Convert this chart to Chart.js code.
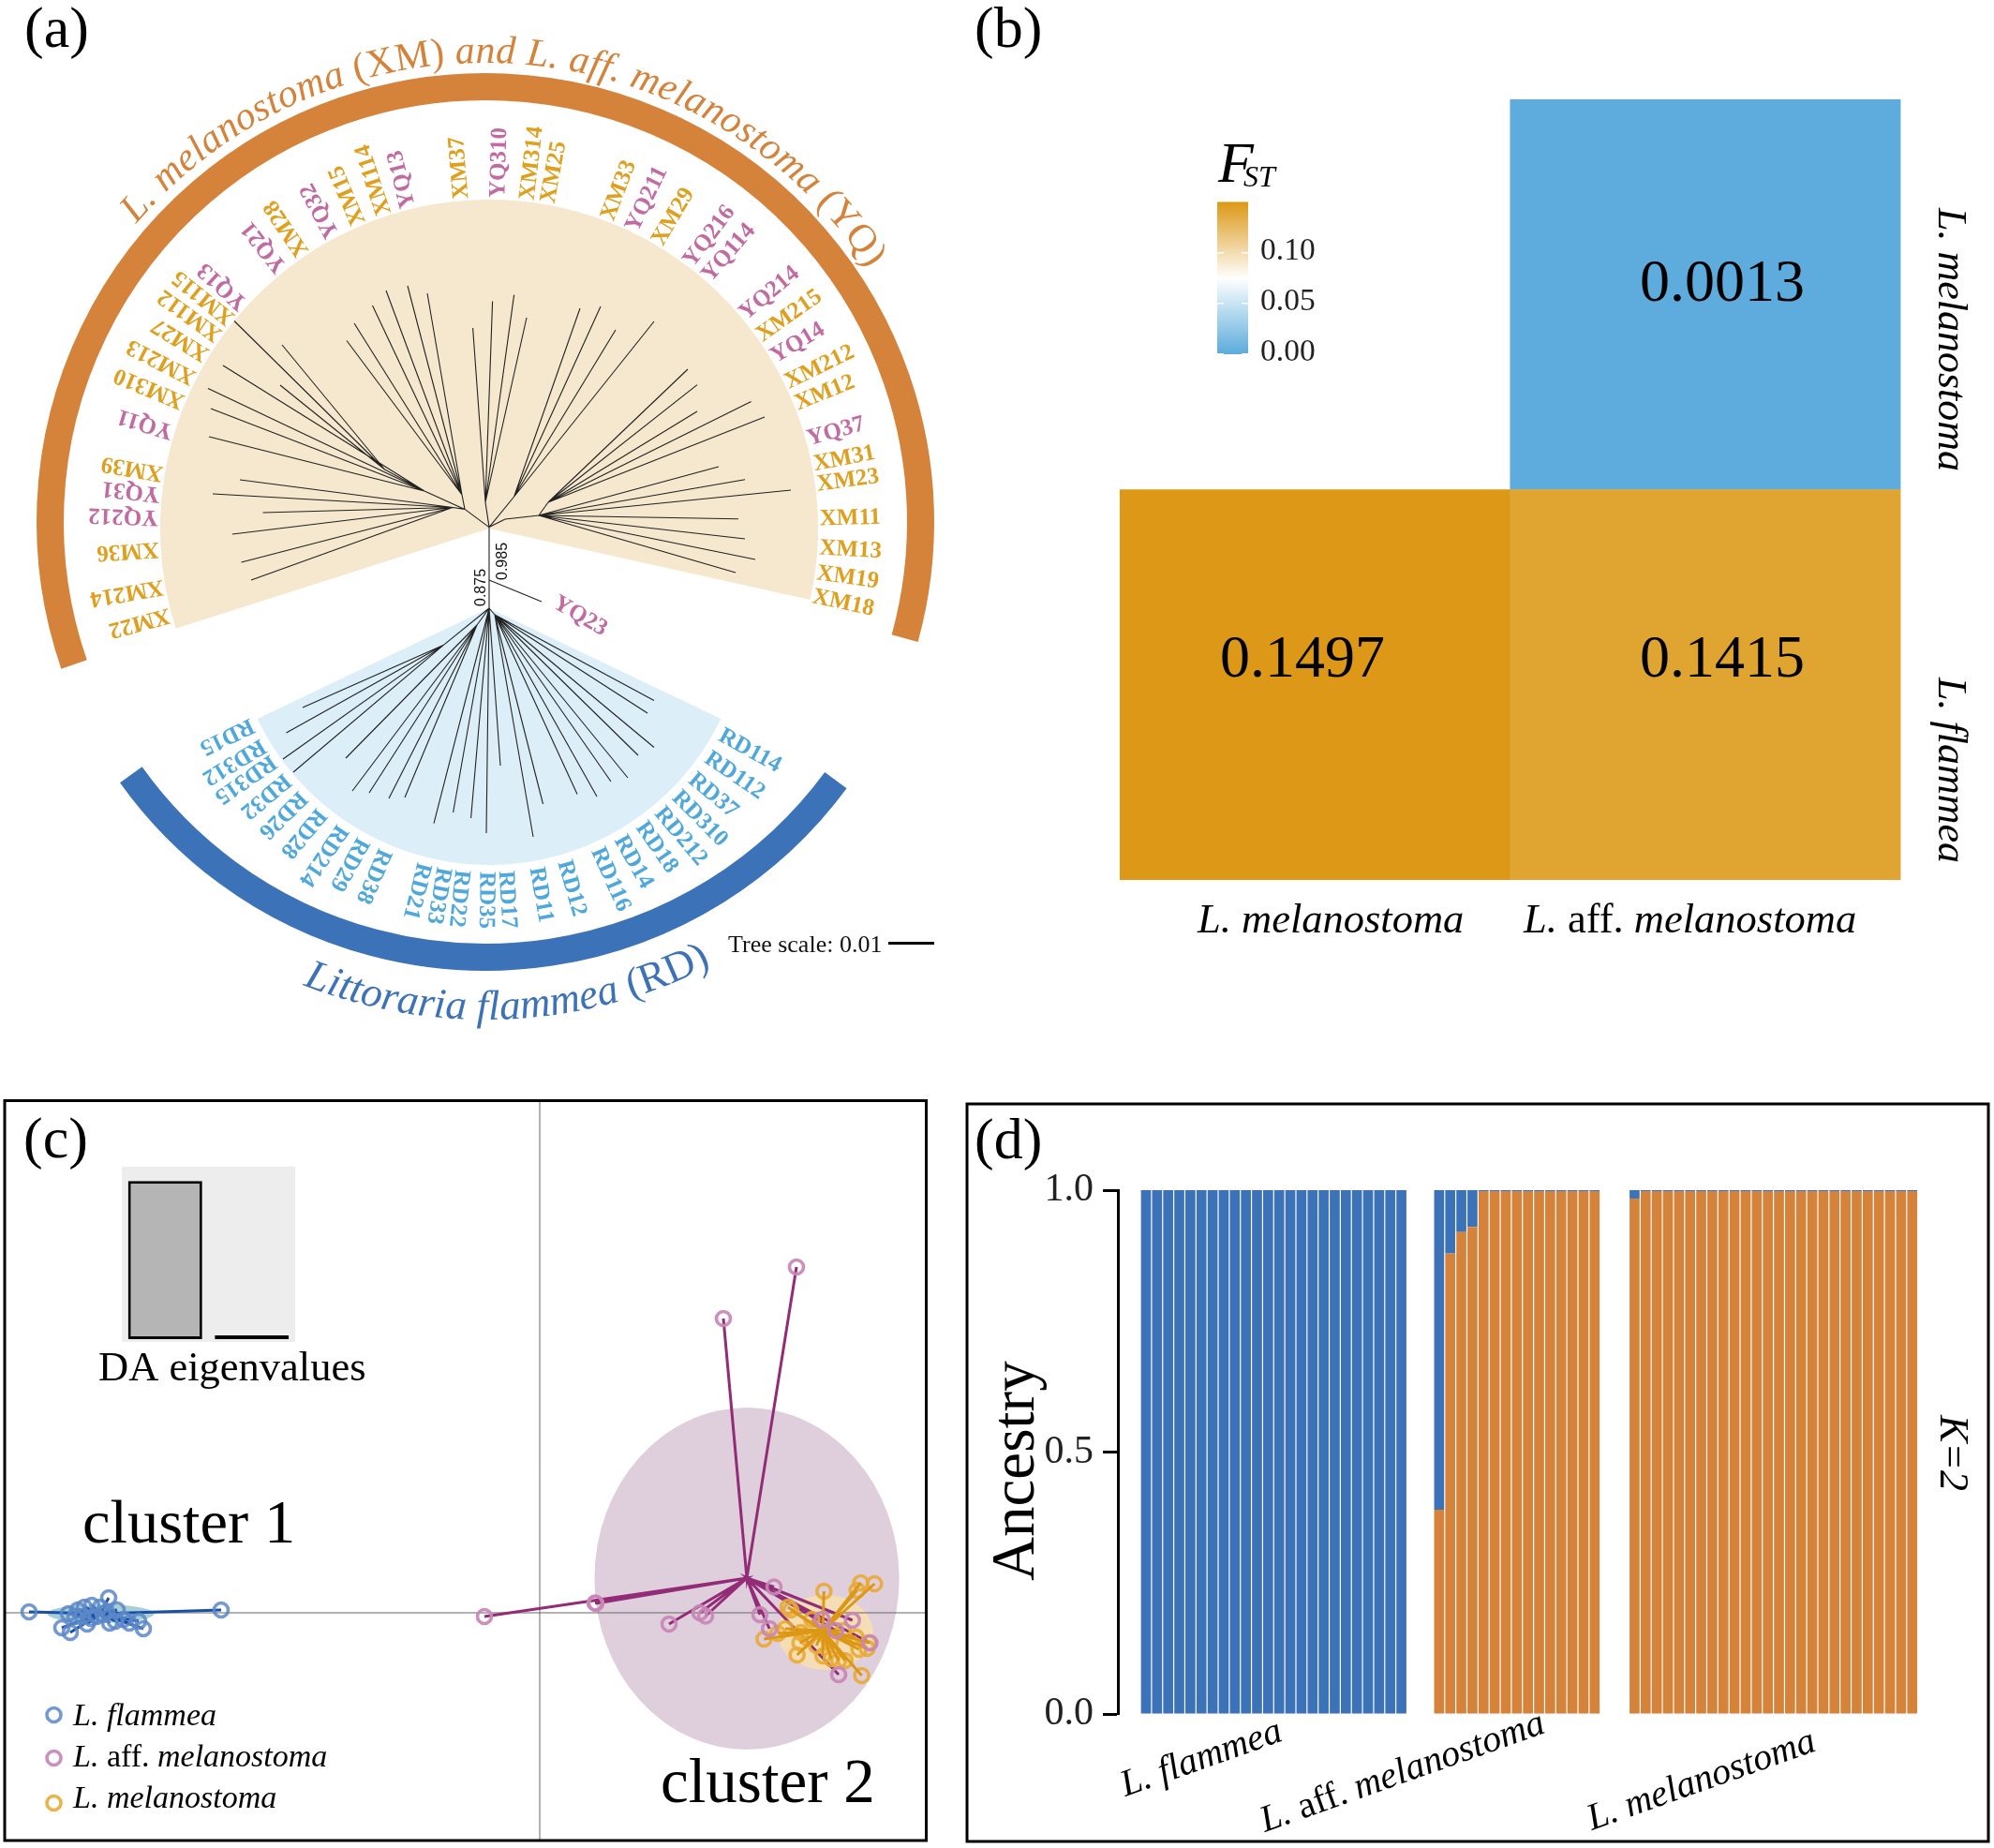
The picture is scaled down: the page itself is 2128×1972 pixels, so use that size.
<!DOCTYPE html>
<html><head><meta charset="utf-8">
<script src="https://cdn.jsdelivr.net/npm/chart.js@4/dist/chart.umd.min.js"></script>
<style>
html,body{margin:0;padding:0;background:#fff}
#page{position:relative;width:2128px;height:1972px;overflow:hidden;background:#fff}
canvas{position:absolute;display:block}
</style></head><body><div id="page">
<canvas id="ca" width="1030" height="1120" style="left:0;top:0"></canvas>
<canvas id="cb" width="1108" height="1040" style="left:1020px;top:0"></canvas>
<canvas id="cc" width="995" height="802" style="left:0;top:1170px"></canvas>
<canvas id="ci" width="185" height="187" style="left:130px;top:1245px;background:#EDEDED"></canvas>
<canvas id="cd" width="1108" height="802" style="left:1020px;top:1170px"></canvas>
</div>
<script>
// ---------- (a) tree data: layout units measured from the upper root ----------
const nodeX=[0,-26,-69,-111.4,-39,-29,-4,26.6,17,53,63,0,-49,-13,6,0];
const nodeY=[1.4,20.6,40,63,22.5,36,28,34,10,14,28,-85,-124.6,-103,-92,-55];
const nodeParent=[-1,0,1,2,1,1,0,0,0,8,9,0,11,11,11,0];
const upperTipX=[-272,-221,-223,-284,-300,-297,-299,-266,-295,-241.5,-274,-264.5,-254,-152,-144,-124.5,-110,-87,-66,-17.4,3.6,26.6,40,97,119,135,176,212,222,222,279.6,294,245,273,322,266,273,284,263];
const upperTipY=[221.5,196,153,174,149.5,128,98,52,37,17,-6,-36,-55,200.5,219,238,254,259,251,214,242.5,249.4,225,235,237,212,221,170,153.4,125,135.4,119,66,52.3,41,10.2,-11,-33,-47];
const upperTipParent=[3,3,3,2,2,2,2,4,4,4,4,4,4,5,5,5,5,5,5,6,6,6,6,7,7,7,7,10,10,10,10,10,9,9,9,9,9,9,9];
const lowerTipX=[-199,-216.5,-220,-209,-153,-146,-128,-107,-90,-59,-38.4,-19.4,-3,12,47,57.5,94,115,130,148,159,176,169,176];
const lowerTipY=[-191,-218,-246,-260,-245,-280,-282,-288,-287,-314.6,-303,-309,-325,-253,-329,-294,-283.5,-286,-270,-266,-242,-233.5,-197,-183.5];
const lowerTipParent=[12,12,12,12,13,13,13,13,13,11,11,11,11,11,14,14,14,14,14,14,14,14,14,14];
const outgroupTip=[56,-78];
const upperLabels=["XM18","XM19","XM13","XM11","XM23","XM31","YQ37","XM12","XM212","YQ14","XM215","YQ214","YQ114","YQ216","XM29","YQ211","XM33","XM25","XM314","YQ310","XM37","YQ13","XM114","XM15","YQ32","XM28","YQ21","YQ13","XM115","XM112","XM27","XM213","XM310","YQ11","XM39","YQ31","YQ212","XM36","XM214","XM22"];
const upperAngles=[-11.9,-7.8,-3.4,1.6,7.6,11.1,15.6,22,26,31,35.3,40,49,53,59.4,64.4,69,79.7,83.3,88.4,94.7,104,108.3,113,118,124,128.6,137.7,141,144.5,148.5,153,157.5,163,170.4,174,178,183.5,190,195];
const lowerLabels=["RD114","RD112","RD37","RD310","RD212","RD18","RD14","RD116","RD12","RD11","RD17","RD35","RD22","RD33","RD21","RD38","RD29","RD214","RD28","RD26","RD32","RD315","RD312","RD15"];
const lowerAngles=[-28.7,-34.3,-39.9,-45,-50,-55,-60.4,-65.9,-73.6,-79.8,-86.5,-90.6,-96,-100,-104.4,-113.4,-118.7,-123.9,-129.6,-135,-140,-145,-149,-154];
const bootstrapLabels=["0.875","0.985"];
const treeScaleLabel="Tree scale: 0.01";

// ---------- (b) FST ----------
const fstColumns=["L. melanostoma","L. aff. melanostoma"];
const fstRows=["L. flammea","L. melanostoma"];
const fstFlammea=[0.1497,0.1415];
const fstMelanostoma=[null,0.0013];
const fstTicks=[0,0.05,0.10];

// ---------- (c) DAPC coordinates ----------
const flammeaX=[-5.45,-3.40,-4.60,-5.03,-5.10,-5.01,-4.23,-4.28,-4.38,-4.51,-4.53,-4.59,-4.83,-4.93,-4.86,-4.78,-4.69,-4.79,-4.73,-4.96,-4.88,-4.66,-4.44,-4.62];
const flammeaY=[0.01,0.03,0.16,-0.01,-0.16,-0.21,-0.17,-0.09,-0.11,0.03,-0.09,-0.11,-0.12,0.03,0.06,0.08,0.06,-0.06,-0.04,-0.04,-0.04,-0.02,-0.07,0.01];
const affinisX=[2.74,1.96,-0.59,0.59,1.38,1.71,1.77,2.35,2.50,2.452,3.013,3.16,3.337,3.524,3.19,0.60];
const affinisY=[3.69,3.14,-0.04,0.105,-0.12,0,-0.035,-0.02,0.275,-0.17,-0.07,-0.19,-0.08,-0.32,-0.66,0.10];
const melanoX=[3.426,3.573,3.387,3.033,2.649,2.679,2.905,2.62,2.541,2.393,2.787,2.777,2.747,3.023,3.111,3.19,3.259,3.406,3.495,3.514,3.436,3.239,3.377,2.856,2.954,3.101];
const melanoY=[0.32,0.31,0.24,0.23,0.06,0.03,-0.07,-0.17,-0.22,-0.28,-0.21,-0.32,-0.45,-0.46,-0.49,-0.51,-0.51,-0.39,-0.38,-0.32,-0.67,-0.19,-0.26,-0.27,-0.35,-0.30];
const centroids=[[-4.69,-0.01],[2.21,0.37],[3.02,-0.19]];
const ellipseRadii=[[0.57,0.10],[1.626,1.825],[0.51,0.40]];
const ellipseCentres=[[-4.685,-0.01],[2.21,0.365],[3.047,-0.21]];
const eigenvalues=[1,0.024];
const legendNames=["L. flammea","L. aff. melanostoma","L. melanostoma"];

// ---------- (d) ancestry ----------
const flammeaOrange=[0,0,0,0,0,0,0,0,0,0,0,0,0,0,0,0,0,0,0,0,0,0,0,0];
const affOrange=[0.39,0.879,0.92,0.93,0.998,0.998,0.998,0.998,0.998,0.998,0.998,0.998,0.998,0.998,0.998];
const melOrange=[0.984,0.998,0.998,0.998,0.998,0.998,0.998,0.998,0.998,0.998,0.998,0.998,0.998,0.998,0.998,0.998,0.998,0.998,0.998,0.998,0.998,0.998,0.998,0.998,0.998,0.998];
const ancestryTicks=[0,0.5,1];

// ---------- styling ----------
const SERIF='"Liberation Serif","Times New Roman",serif';
const ORANGE='#D5823A',BLUE='#3C72B8';
const cXM='#DF9F1F',cYQ='#C26BA0',cRD='#4FA8DC';
const f=(size,style='')=>`${style} ${size}px ${SERIF}`.trim();
function txt(ctx,s,x,y,o={}){
  ctx.save();ctx.translate(x,y);if(o.rot)ctx.rotate(o.rot*Math.PI/180);
  ctx.font=o.font||f(40);ctx.fillStyle=o.color||'#000';
  ctx.textAlign=o.align||'left';ctx.textBaseline=o.base||'alphabetic';
  ctx.fillText(s,0,0);ctx.restore();
}
function runs(ctx,list,x,y,size,o={}){ // mixed italic / roman text on one baseline
  ctx.save();ctx.translate(x,y);if(o.rot)ctx.rotate(o.rot*Math.PI/180);
  ctx.fillStyle=o.color||'#000';ctx.textBaseline='alphabetic';ctx.textAlign='left';
  let p=0;for(const [s,st] of list){ctx.font=f(size,st);ctx.fillText(s,p,0);p+=ctx.measureText(s).width;}
  ctx.restore();
}
const species={ "L. melanostoma":[["L. melanostoma","italic"]],
  "L. aff. melanostoma":[["L. ","italic"],["aff. ",""],["melanostoma","italic"]],
  "L. flammea":[["L. flammea","italic"]]};
function curved(ctx,list,cx,cy,r,a0,a1,size,color,bottom){
  const chars=[];let total=0;
  for(const [s,st] of list){ctx.font=f(size,st);for(const c of s){const w=ctx.measureText(c).width;chars.push([c,st,w]);total+=w;}}
  const arc=(a1-a0)*Math.PI/180*r, extra=(arc-total)/(chars.length-1);
  let p=0;ctx.save();ctx.fillStyle=color;ctx.textAlign='center';ctx.textBaseline='alphabetic';
  for(const [c,st,w] of chars){
    const th=(a0*Math.PI/180)+(p+w/2)/r;
    ctx.save();
    if(bottom){ctx.translate(cx+r*Math.sin(th),cy+r*Math.cos(th));ctx.rotate(-th);}
    else{ctx.translate(cx+r*Math.sin(th),cy-r*Math.cos(th));ctx.rotate(th);}
    ctx.font=f(size,st);ctx.fillText(c,0,0);ctx.restore();
    p+=w+extra;
  }
  ctx.restore();
}
const base={responsive:false,maintainAspectRatio:false,animation:false,devicePixelRatio:1,events:[],
  plugins:{legend:{display:false},tooltip:{enabled:false}}};
const labelColor=s=>s.startsWith('XM')?cXM:s.startsWith('YQ')?cYQ:cRD;

// ========== (a) ==========
const branch=[];
const seg=(x0,y0,x1,y1)=>{branch.push({x:x0,y:y0},{x:x1,y:y1},{x:NaN,y:NaN});};
nodeParent.forEach((p,i)=>{if(p>=0)seg(nodeX[p],nodeY[p],nodeX[i],nodeY[i]);});
upperTipX.forEach((x,i)=>{const p=upperTipParent[i];seg(nodeX[p],nodeY[p],x,upperTipY[i]);});
lowerTipX.forEach((x,i)=>{const p=lowerTipParent[i];seg(nodeX[p],nodeY[p],x,lowerTipY[i]);});
seg(nodeX[15],nodeY[15],outgroupTip[0],outgroupTip[1]);

const treePlugin={id:'tree',
 beforeDatasetsDraw(ch){
  const {ctx,scales:{x,y}}=ch;
  const wedge=(cxv,cyv,r,a0,a1,col)=>{const cx=x.getPixelForValue(cxv),cy=y.getPixelForValue(cyv);
    ctx.save();ctx.fillStyle=col;ctx.beginPath();ctx.moveTo(cx,cy);ctx.arc(cx,cy,r,a0*Math.PI/180,a1*Math.PI/180);ctx.closePath();ctx.fill();ctx.restore();};
  wedge(0,0,351,162.3,372.5,'#F5E8CE');
  wedge(0,-85,274,25.5,154.5,'#DCEEF8');
  const ring=(a0,a1,col)=>{const cx=x.getPixelForValue(-4),cy=y.getPixelForValue(7);
    ctx.save();ctx.strokeStyle=col;ctx.lineWidth=29;ctx.lineCap='butt';ctx.beginPath();ctx.arc(cx,cy,464.5,a0*Math.PI/180,a1*Math.PI/180);ctx.stroke();ctx.restore();};
  ring(160.9,375.5,ORANGE);
  ring(36.4,144.5,BLUE);
 },
 afterDatasetsDraw(ch){
  const {ctx,scales:{x,y}}=ch;
  const put=(names,angles,cyv,r)=>{const cx=x.getPixelForValue(0),cy=y.getPixelForValue(cyv);
    names.forEach((s,i)=>{const t=angles[i]*Math.PI/180;
      txt(ctx,s,cx+r*Math.cos(t),cy-r*Math.sin(t),{rot:-angles[i],font:f(25,'bold'),color:labelColor(s),base:'middle'});});};
  put(upperLabels,upperAngles,0,353);
  put(lowerLabels,lowerAngles,-85,281);
  txt(ctx,"YQ23",x.getPixelForValue(70),y.getPixelForValue(-78),{rot:30,font:f(25,'bold'),color:cYQ,base:'middle'});
  const sans='16px "Liberation Sans",Arial,sans-serif';
  txt(ctx,bootstrapLabels[0],x.getPixelForValue(-4),y.getPixelForValue(-83),{rot:-90,font:sans,color:'#111'});
  txt(ctx,bootstrapLabels[1],x.getPixelForValue(19),y.getPixelForValue(-55),{rot:-90,font:sans,color:'#111'});
  txt(ctx,treeScaleLabel,777,1016,{font:f(26),color:'#111'});
  ctx.fillStyle='#000';ctx.fillRect(948,1005,49,3);
  curved(ctx,[["L. melanostoma ","italic"],["(XM) ",""],["and L. aff. melanostoma ","italic"],["(YQ)",""]],518,557,490,-49.5,56.5,42,ORANGE,false);
  curved(ctx,[["Littoraria flammea ","italic"],["(RD)",""]],518,557,531,-21.5,27,45,BLUE,true);
  txt(ctx,"(a)",26,50,{font:f(62)});
 }};
new Chart(document.getElementById('ca'),{type:'scatter',
 data:{datasets:[{data:branch,showLine:true,spanGaps:false,borderColor:'#222',borderWidth:1.1,pointRadius:0,tension:0}]},
 options:{...base,layout:{padding:0,autoPadding:false},
  scales:{x:{type:'linear',display:false,min:-522,max:508},y:{type:'linear',display:false,min:-556,max:564}}},
 plugins:[treePlugin]});

// ========== (b) ==========
const lerp=(a,b,t)=>a.map((v,i)=>Math.round(v+(b[i]-v)*t));
const fstColor=v=>{const lo=[91,171,220],mid=[255,255,255],hi=[220,152,21];
  const c=v<0.075?lerp(lo,mid,v/0.075):lerp(mid,hi,(v-0.075)/0.075);return `rgb(${c})`;};
const rowData=(vals,r)=>vals.map((v,i)=>v==null?null:{x:fstColumns[i],y:[r,r+1],v}).filter(Boolean);
const heatPlugin={id:'heat',afterDatasetsDraw(ch){
  const {ctx}=ch,X=1020;
  const fmt=v=>v.toFixed(4);
  txt(ctx,fmt(fstMelanostoma[1]),1838-X,304,{font:f(64),align:'center',base:'middle'});
  txt(ctx,fmt(fstFlammea[0]),1390-X,705,{font:f(64),align:'center',base:'middle'});
  txt(ctx,fmt(fstFlammea[1]),1838-X,705,{font:f(64),align:'center',base:'middle'});
  runs(ctx,species[fstColumns[0]],1278-X,995,44.5);
  runs(ctx,species[fstColumns[1]],1626-X,995,44.5);
  runs(ctx,species[fstRows[1]],2069-X,222,44,{rot:90});
  runs(ctx,species[fstRows[0]],2069-X,723,44,{rot:90});
  // colour bar
  const yV=v=>378-v*1080, bx=1299-X, bw=33;
  const g=ctx.createLinearGradient(0,yV(0),0,yV(0.1505));
  [0,0.04,0.075,0.11,0.1505].forEach(v=>g.addColorStop(v/0.1505,fstColor(Math.min(v,0.15))));
  ctx.fillStyle=g;ctx.fillRect(bx,yV(0.1505),bw,yV(0)-yV(0.1505));
  ctx.fillStyle='#fff';
  fstTicks.forEach(v=>{ctx.fillRect(bx,yV(v)-1,7,1.5);ctx.fillRect(bx+bw-7,yV(v)-1,7,1.5);
    txt(ctx,v.toFixed(2),1345-X,yV(v)-2,{font:f(33.5),base:'middle',color:'#222'});ctx.fillStyle='#fff';});
  txt(ctx,"F",1300-X,194,{font:f(62,'italic')});
  txt(ctx,"ST",1327-X,199,{font:f(32,'italic')});
  txt(ctx,"(b)",20,50,{font:f(62)});
}};
new Chart(document.getElementById('cb'),{type:'bar',
 data:{labels:fstColumns,datasets:[fstFlammea,fstMelanostoma].map((vals,r)=>({label:fstRows[r],data:rowData(vals,r),
   backgroundColor:c=>fstColor(c.raw.v),borderWidth:0,categoryPercentage:1,barPercentage:1,grouped:false}))},
 options:{...base,layout:{padding:{left:175,right:99.5,top:106,bottom:101},autoPadding:false},
  scales:{x:{type:'category',display:false},y:{type:'linear',display:false,min:0,max:2}}},
 plugins:[heatPlugin]});

// ========== (c) ==========
const pts=(xs,ys)=>xs.map((x,i)=>({x,y:ys[i]}));
const star=(xs,ys,c)=>xs.flatMap((x,i)=>[{x:c[0],y:c[1]},{x,y:ys[i]}]);
const dotBlue='rgba(90,135,200,0.85)',dotPink='rgba(200,135,182,0.92)',dotGold='rgba(232,170,50,0.88)';
const spoke=(data,col,order)=>({data,showLine:true,borderColor:col,borderWidth:3,pointRadius:0,tension:0,order});
const dots=(data,col,order)=>({data,showLine:false,pointStyle:'circle',pointRadius:7.5,pointBorderWidth:3.6,pointBorderColor:col,pointBackgroundColor:'rgba(0,0,0,0)',order});
const dapcPlugin={id:'dapc',
 beforeDatasetsDraw(ch){
  const {ctx,scales:{x,y}}=ch;
  ['#A6CFD6','#DFCFDC','#F5DDB5'].forEach((col,i)=>{
    const [cx,cy]=ellipseCentres[i],[rx,ry]=ellipseRadii[i];
    ctx.save();ctx.fillStyle=col;ctx.beginPath();
    ctx.ellipse(x.getPixelForValue(cx),y.getPixelForValue(cy),x.getPixelForValue(cx+rx)-x.getPixelForValue(cx),y.getPixelForValue(cy)-y.getPixelForValue(cy+ry),0,0,7);
    ctx.fill();ctx.restore();});
  ctx.save();ctx.strokeStyle='#666';ctx.lineWidth=1;ctx.beginPath();
  const x0=x.getPixelForValue(0),y0=y.getPixelForValue(0);
  ctx.moveTo(x0,5);ctx.lineTo(x0,794);ctx.moveTo(5,y0);ctx.lineTo(988,y0);ctx.stroke();ctx.restore();
 },
 afterDatasetsDraw(ch){
  const {ctx}=ch;
  ctx.save();ctx.strokeStyle='#000';ctx.lineWidth=3;ctx.strokeRect(5,4.5,983.5,789.5);ctx.restore();
  txt(ctx,"(c)",25,65,{font:f(62)});
  txt(ctx,"DA eigenvalues",105,303,{font:f(44.5)});
  txt(ctx,"cluster 1",88,476,{font:f(66.5)});
  txt(ctx,"cluster 2",705,753,{font:f(67)});
  [[dotBlue,660,671],[dotPink,706,715],[dotGold,754,759]].forEach(([col,cy,by],i)=>{
    ctx.save();ctx.strokeStyle=col;ctx.lineWidth=3.6;ctx.beginPath();ctx.arc(57.5,cy,7.5,0,7);ctx.stroke();ctx.restore();
    runs(ctx,species[legendNames[i]],78,by,34);
  });
 }};
new Chart(document.getElementById('cc'),{type:'scatter',
 data:{datasets:[
  spoke(star(flammeaX,flammeaY,centroids[0]),'#1A4FA8',6),
  dots(pts(flammeaX,flammeaY),dotBlue,5),
  spoke(star(affinisX,affinisY,centroids[1]),'#932C76',7),
  dots(pts(melanoX,melanoY),dotGold,4),
  spoke(star(melanoX,melanoY,centroids[2]),'#DC9815',3),
  dots(pts(affinisX,affinisY),dotPink,2)]},
 options:{...base,layout:{padding:0,autoPadding:false},
  scales:{x:{type:'linear',display:false,min:-5.76,max:4.19},y:{type:'linear',display:false,min:-2.51,max:5.51}}},
 plugins:[dapcPlugin]});

new Chart(document.getElementById('ci'),{type:'bar',
 data:{labels:['DA1','DA2'],datasets:[{data:eigenvalues,backgroundColor:'#000',borderColor:'#000',borderWidth:3,borderSkipped:false,categoryPercentage:1,barPercentage:0.855,
   backgroundColor:['#B5B5B5','#000']}]},
 options:{...base,layout:{padding:{bottom:3},autoPadding:false},
  scales:{x:{type:'category',display:false},y:{type:'linear',display:false,min:0,max:1.09}}}});

// ========== (d) ==========
const groups=[flammeaOrange,affOrange,melOrange];
const groupStart=[0,26.4,44];
const ancX=groups.flatMap((g,k)=>g.map((_,i)=>groupStart[k]+i));
const ancOrange=groups.flat();
const ancestryPlugin={id:'anc',afterDraw(ch){
  const {ctx}=ch,X=1020,Y=1170;
  ctx.save();ctx.strokeStyle='#000';ctx.lineWidth=3;ctx.strokeRect(1032-X,1178-Y,1090,787);ctx.restore();
  txt(ctx,"(d)",20,66,{font:f(62)});
  txt(ctx,"Ancestry",1103-X,1687-Y,{font:f(65),rot:-90});
  runs(ctx,species["L. flammea"],1201-X,1917-Y,40,{rot:-19.5});
  runs(ctx,species["L. aff. melanostoma"],1350-X,1955-Y,40,{rot:-19.5});
  runs(ctx,species["L. melanostoma"],1699-X,1953-Y,40,{rot:-19.5});
  txt(ctx,"K=2",2071-X,1510-Y,{font:f(44,'italic'),rot:90});
}};
new Chart(document.getElementById('cd'),{type:'bar',
 data:{datasets:[
  {label:'orange',data:ancX.map((x,i)=>({x,y:ancOrange[i]})),backgroundColor:ORANGE,borderWidth:0,categoryPercentage:1,barPercentage:0.9,stack:'a'},
  {label:'blue',data:ancX.map((x,i)=>({x,y:1-ancOrange[i]})),backgroundColor:BLUE,borderWidth:0,categoryPercentage:1,barPercentage:0.9,stack:'a'}]},
 options:{...base,layout:{padding:{right:81,top:100,bottom:143},autoPadding:false},
  scales:{
   x:{type:'linear',display:false,offset:false,min:-2.53,max:69.53,stacked:true},
   y:{type:'linear',stacked:true,min:0,max:1,position:'left',
      afterFit(s){s.width=173;},
      afterBuildTicks(s){s.ticks=ancestryTicks.map(value=>({value}));},
      grid:{drawOnChartArea:false,tickLength:16,tickWidth:3,tickColor:'#000'},
      border:{color:'#000',width:3},
      ticks:{font:{family:SERIF,size:42},color:'#222',padding:10,callback:v=>Number(v).toFixed(1)}}}},
 plugins:[ancestryPlugin]});
</script></body></html>
